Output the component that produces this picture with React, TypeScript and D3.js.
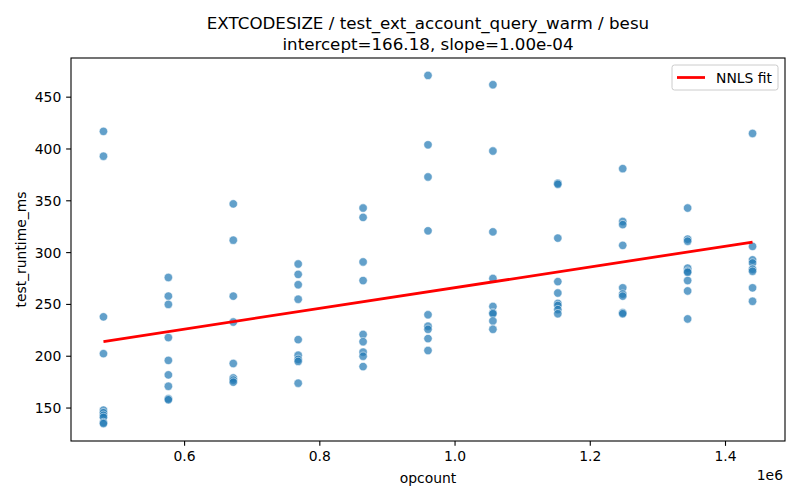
import * as d3 from 'd3';

const W = 800;
const H = 500;
const MARGIN = { top: 58, right: 15, bottom: 59, left: 71 };

const OPCOUNTS = [480000, 576000, 672000, 768000, 864000, 960000, 1056000, 1152000, 1248000, 1344000, 1440000];

// runtimes per opcount group
const RUNTIMES: number[][] = [
    [417, 393, 238, 202.5, 148, 145.5, 143, 141, 136, 135],
    [276, 258, 250, 218, 196, 182, 171, 159, 158],
    [347, 312, 258, 233, 193, 179, 177, 175],
    [289, 279, 269, 255, 216, 201, 197, 195, 174],
    [343, 334, 291, 273, 221, 214, 204, 200, 190],
    [471, 404, 373, 321, 240, 229, 226, 217, 205.5],
    [462, 398, 320, 275, 248, 242, 241, 234, 226],
    [367, 366, 314, 272, 261, 251, 249, 245, 241],
    [381, 330, 327, 307, 266, 260, 258, 242, 241],
    [343, 313, 311, 285, 282, 281, 273, 263, 236],
    [415, 306, 293, 290, 284, 282, 266, 253],
];

const X_TICKS = [600000, 800000, 1000000, 1200000, 1400000];
const X_TICK_LABELS = ['0.6', '0.8', '1.0', '1.2', '1.4'];
const Y_TICKS = [150, 200, 250, 300, 350, 400, 450];

const INTERCEPT = 166.18;
const SLOPE = 1.0e-4;

const FONT = 'DejaVu Sans, sans-serif';
const TICK = 4.86;

export default function App() {
    const points = OPCOUNTS.flatMap((x, i) => RUNTIMES[i].map((y) => ({ x, y })));

    const xMin = d3.min(points, (d) => d.x) ?? 0;
    const xMax = d3.max(points, (d) => d.x) ?? 1;
    const yMin = d3.min(points, (d) => d.y) ?? 0;
    const yMax = d3.max(points, (d) => d.y) ?? 1;
    const xPad = (xMax - xMin) * 0.05;
    const yPad = (yMax - yMin) * 0.05;

    const xScale = d3
        .scaleLinear()
        .domain([xMin - xPad, xMax + xPad])
        .range([MARGIN.left, W - MARGIN.right]);
    const yScale = d3
        .scaleLinear()
        .domain([yMin - yPad, yMax + yPad])
        .range([H - MARGIN.bottom, MARGIN.top]);

    const fitLine = d3
        .line<number>()
        .x((d) => xScale(d))
        .y((d) => yScale(INTERCEPT + SLOPE * d));

    const left = MARGIN.left;
    const right = W - MARGIN.right;
    const top = MARGIN.top;
    const bottom = H - MARGIN.bottom;

    return (
        <svg width={W} height={H} style={{ position: 'absolute', left: 0, top: 0, background: '#fff' }} fontFamily={FONT}>
            <text x={(left + right) / 2} y={29} textAnchor="middle" fontSize={16.7}>
                EXTCODESIZE / test_ext_account_query_warm / besu
            </text>
            <text x={(left + right) / 2} y={50} textAnchor="middle" fontSize={16.7}>
                intercept=166.18, slope=1.00e-04
            </text>

            {points.map((d, i) => (
                <circle
                    key={i}
                    cx={xScale(d.x)}
                    cy={yScale(d.y)}
                    r={4.2}
                    fill="#1f77b4"
                    fillOpacity={0.7}
                    stroke="#fff"
                    strokeOpacity={0.7}
                    strokeWidth={0.75}
                />
            ))}

            <path d={fitLine([xMin, xMax]) ?? ''} stroke="#ff0000" strokeWidth={2.78} fill="none" />

            <rect x={left} y={top} width={right - left} height={bottom - top} fill="none" stroke="#000" strokeWidth={1.1} />

            {X_TICKS.map((t, i) => (
                <g key={t}>
                    <line x1={xScale(t)} x2={xScale(t)} y1={bottom} y2={bottom + TICK} stroke="#000" strokeWidth={1.1} />
                    <text x={xScale(t)} y={bottom + TICK * 2 + 10.5} textAnchor="middle" fontSize={13.9}>
                        {X_TICK_LABELS[i]}
                    </text>
                </g>
            ))}
            <text x={783} y={480} textAnchor="end" fontSize={13.9}>1e6</text>
            <text x={(left + right) / 2} y={483} textAnchor="middle" fontSize={13.9}>opcount</text>

            {Y_TICKS.map((t) => (
                <g key={t}>
                    <line x1={left - TICK} x2={left} y1={yScale(t)} y2={yScale(t)} stroke="#000" strokeWidth={1.1} />
                    <text x={left - TICK * 2} y={yScale(t)} dy="0.36em" textAnchor="end" fontSize={13.9}>
                        {t}
                    </text>
                </g>
            ))}
            <text
                transform={`translate(${26},${(top + bottom) / 2}) rotate(-90)`}
                textAnchor="middle"
                fontSize={13.9}
            >
                test_runtime_ms
            </text>

            <g>
                <rect x={672} y={65} width={106} height={25} rx={2.5} fill="#fff" fillOpacity={0.8} stroke="#ccc" strokeWidth={1} />
                <line x1={677} x2={705} y1={77.5} y2={77.5} stroke="#ff0000" strokeWidth={2.78} />
                <text x={716} y={77.5} dy="0.36em" fontSize={13.9}>NNLS fit</text>
            </g>
        </svg>
    );
}
